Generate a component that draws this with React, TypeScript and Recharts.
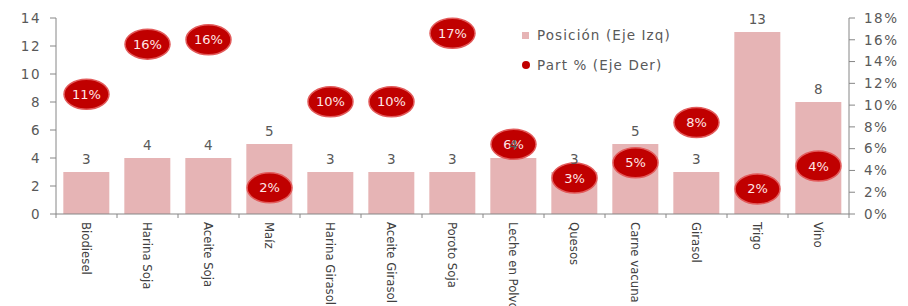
import React from "react"
import { ComposedChart, Bar, Line, XAxis, YAxis, LabelList } from "recharts"

// Datos
const categories = [
  "Biodiesel",
  "Harina Soja",
  "Aceite Soja",
  "Maíz",
  "Harina Girasol",
  "Aceite Girasol",
  "Poroto Soja",
  "Leche en Polvo",
  "Quesos",
  "Carne vacuna",
  "Girasol",
  "Trigo",
  "Vino",
]
const posicion = [3, 4, 4, 5, 3, 3, 3, 4, 3, 5, 3, 13, 8]
const partPct = [11, 15.6, 16, 2.4, 10.3, 10.3, 16.6, 6.4, 3.3, 4.7, 8.4, 2.3, 4.4]

const leftTicks = [0, 2, 4, 6, 8, 10, 12, 14]
const rightTicks = [0, 2, 4, 6, 8, 10, 12, 14, 16, 18]

const W = 908
const H = 306
const LEFT_W = 56
const RIGHT_W = 59
const X_H = 92
const HALF_BAND = (W - LEFT_W - RIGHT_W) / categories.length / 2

const BAR_COLOR = "#e6b4b5"
const DOT_COLOR = "#c00000"
const TEXT = "#595959"
const AXIS = "#868686"
const FONT = "'DejaVu Sans', Verdana, sans-serif"

const data = categories.map((name, i) => ({
  name,
  posicion: posicion[i],
  part: partPct[i],
}))

const axisTick = { fill: TEXT, fontSize: 13.5, fontFamily: FONT, letterSpacing: 1.5 }

const XTick = ({ x, y, payload, index }: any) => (
  <g>
    {index === 0 && <line x1={x - HALF_BAND} x2={x - HALF_BAND} y1={y} y2={y + 4} stroke={AXIS} />}
    <line x1={x + HALF_BAND} x2={x + HALF_BAND} y1={y} y2={y + 4} stroke={AXIS} />
    <text
      transform={`translate(${x},${y + 8}) rotate(90)`}
      textAnchor="start"
      dominantBaseline="central"
      fill="#404040"
      fontSize={13}
      fontFamily="'Liberation Sans Narrow', 'DejaVu Sans Condensed', sans-serif"
    >
      {payload.value}
    </text>
  </g>
)

const PctDot = ({ cx, cy, payload }: any) => {
  if (cx == null || cy == null) return null
  return (
    <g>
      <ellipse cx={cx} cy={cy} rx={22.5} ry={15} fill={DOT_COLOR} stroke="#e25b5b" strokeWidth={1.5} />
      <text
        x={cx}
        y={cy}
        textAnchor="middle"
        dominantBaseline="central"
        fill="#ffe6e6"
        fontSize={13}
        fontFamily={FONT}
      >
        {`${Math.round(payload.part)}%`}
      </text>
    </g>
  )
}

export default function App() {
  return (
    <div style={{ position: "absolute", left: 0, top: 0, width: W, height: H, background: "#fff" }}>
      <ComposedChart
        width={W}
        height={H}
        data={data}
        margin={{ top: 18, right: 0, bottom: 0, left: 0 }}
        barCategoryGap="12%"
      >
        <XAxis
          dataKey="name"
          height={X_H}
          interval={0}
          tickLine={false}
          tickSize={0}
          tickMargin={0}
          stroke={AXIS}
          tick={<XTick />}
        />
        <YAxis
          yAxisId="left"
          orientation="left"
          width={LEFT_W}
          domain={[0, 14]}
          ticks={leftTicks}
          interval={0}
          stroke={AXIS}
          tickSize={6}
          tickMargin={9}
          tick={axisTick}
        />
        <YAxis
          yAxisId="right"
          orientation="right"
          width={RIGHT_W}
          domain={[0, 18]}
          ticks={rightTicks}
          interval={0}
          tickFormatter={(v) => `${v}%`}
          stroke={AXIS}
          tickSize={6}
          tickMargin={9}
          tick={axisTick}
        />
        <Bar yAxisId="left" dataKey="posicion" fill={BAR_COLOR} isAnimationActive={false}>
          <LabelList
            dataKey="posicion"
            position="top"
            offset={8}
            fill={TEXT}
            fontSize={13.5}
            fontFamily={FONT}
          />
        </Bar>
        <Line
          yAxisId="right"
          dataKey="part"
          stroke="none"
          dot={<PctDot />}
          activeDot={false}
          isAnimationActive={false}
        />
      </ComposedChart>
      {/* Leyenda */}
      <div
        style={{
          position: "absolute",
          left: 522,
          top: 20,
          fontFamily: FONT,
          fontSize: 13.5,
          letterSpacing: 1.1,
          color: TEXT,
          lineHeight: "30px",
        }}
      >
        <div style={{ display: "flex", alignItems: "center" }}>
          <span style={{ width: 7, height: 7, background: BAR_COLOR, marginRight: 8 }} />
          Posición (Eje Izq)
        </div>
        <div style={{ display: "flex", alignItems: "center" }}>
          <span style={{ width: 8, height: 8, borderRadius: 4, background: DOT_COLOR, marginRight: 7 }} />
          Part % (Eje Der)
        </div>
      </div>
    </div>
  )
}
